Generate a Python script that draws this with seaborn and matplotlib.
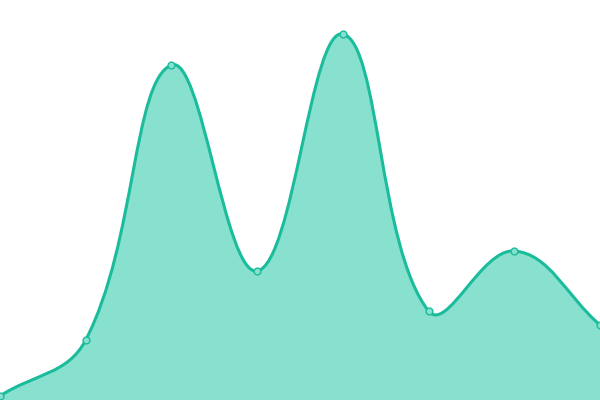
import numpy as np
import pandas as pd
import matplotlib
matplotlib.use('Agg')
import matplotlib.pyplot as plt
from matplotlib.path import Path
from matplotlib.patches import PathPatch
import seaborn as sns

# datos
puntos = [0, 1, 2, 3, 4, 5, 6, 7]
valores = [4, 60, 335, 129, 366, 89, 149, 75]

linea = '#1abc9c'
relleno = '#88e0cf'
tension = 0.4

sns.set_style('white')

df = pd.DataFrame({'x': puntos, 'y': valores})

fig = plt.figure(figsize=(6, 4), dpi=100)
ax = fig.add_axes([0, 0, 1, 1])
ax.set_xlim(0, 7)
ax.set_ylim(0, 400)

# curva suave (spline con tension) calculada en pixeles
p = ax.transData.transform(np.column_stack([df['x'], df['y']]).astype(float))
n = len(p)
cp_prev = np.zeros_like(p)
cp_next = np.zeros_like(p)
for i in range(n):
    prev = p[i - 1] if i > 0 else p[i]
    nxt = p[i + 1] if i < n - 1 else p[i]
    d01 = np.hypot(*(p[i] - prev))
    d12 = np.hypot(*(nxt - p[i]))
    tot = d01 + d12
    s01 = d01 / tot if tot else 0
    s12 = d12 / tot if tot else 0
    cp_prev[i] = p[i] - tension * s01 * (nxt - prev)
    cp_next[i] = p[i] + tension * s12 * (nxt - prev)

inv = ax.transData.inverted()
verts = [tuple(inv.transform(p[0]))]
codes = [Path.MOVETO]
for i in range(n - 1):
    for q in (cp_next[i], cp_prev[i + 1], p[i + 1]):
        verts.append(tuple(inv.transform(q)))
    codes += [Path.CURVE4] * 3

curva = Path(verts, codes)
area = Path(verts + [(puntos[-1], 0), (puntos[0], 0), verts[0]],
            codes + [Path.LINETO, Path.LINETO, Path.CLOSEPOLY])

ax.add_patch(PathPatch(area, facecolor=relleno, edgecolor='none', zorder=1))
ax.add_patch(PathPatch(curva, facecolor='none', edgecolor=linea, lw=2.2, zorder=2))

sns.scatterplot(data=df, x='x', y='y', ax=ax, s=24, color=relleno,
                edgecolor=linea, linewidth=1, zorder=3, clip_on=False)

ax.set_xlim(0, 7)
ax.set_ylim(0, 400)
ax.axis('off')

fig.savefig('out.png', dpi=100)
